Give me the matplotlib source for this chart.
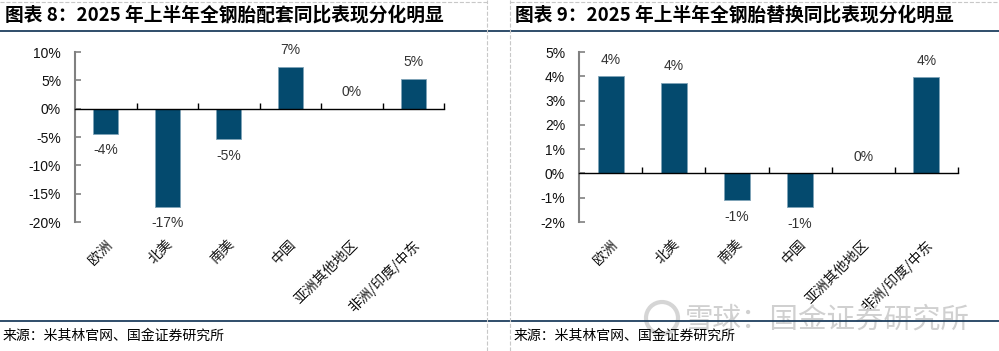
import numpy as np
import matplotlib.pyplot as plt
from matplotlib.lines import Line2D
from matplotlib.patches import Ellipse

plt.rcParams['font.family'] = ['Liberation Sans', 'Noto Sans CJK SC', 'DejaVu Sans']

# 数据
categories = ['欧洲', '北美', '南美', '中国', '亚洲其他地区', '非洲/印度/中东']
oe_yoy = [-4.4, -17.3, -5.4, 7.4, 0.0, 5.3]          # 配套
repl_yoy = [4.0, 3.72, -1.1, -1.4, 0.0, 3.96]        # 替换
oe_ticks = [-20, -15, -10, -5, 0, 5, 10]
repl_ticks = [-2, -1, 0, 1, 2, 3, 4, 5]

titles = ['图表 8：2025 年上半年全钢胎配套同比表现分化明显',
          '图表 9：2025 年上半年全钢胎替换同比表现分化明显']
source = '来源：米其林官网、国金证券研究所'

bar_color = '#044A6E'
text_color = '#333333'
W, H = 999, 351

fig = plt.figure(figsize=(W / 100, H / 100), dpi=100)

def px(x0, y0, x1, y1):
    return [x0 / W, 1 - y1 / H, (x1 - x0) / W, (y1 - y0) / H]

panels = [
    (px(75, 52, 444, 222), oe_yoy, oe_ticks),
    (px(579, 52, 958, 222), repl_yoy, repl_ticks),
]

for rect, vals, ticks in panels:
    ax = fig.add_axes(rect)
    x = np.arange(len(categories))
    ax.bar(x, vals, width=0.41, color=bar_color, edgecolor='#7FA3B8', linewidth=0.6, zorder=2)
    for xi, v in zip(x, vals):
        if v < 0:
            ax.annotate(f'{v:.0f}%', (xi, v), xytext=(0, -7), textcoords='offset points',
                        ha='center', va='top', fontsize=10, color=text_color)
        else:
            ax.annotate(f'{v:.0f}%', (xi, v), xytext=(0, 7), textcoords='offset points',
                        ha='center', va='bottom', fontsize=10, color=text_color)

    ax.set_xlim(-0.5, len(categories) - 0.5)
    ax.set_ylim(ticks[0], ticks[-1])
    ax.set_yticks(ticks)
    ax.set_yticklabels([f'{t}%' for t in ticks])
    ax.tick_params(axis='y', direction='in', length=4, width=1.2, color='#808080',
                   pad=10, labelsize=10, labelcolor='#111111')

    for s in ['top', 'right']:
        ax.spines[s].set_visible(False)
    ax.spines['left'].set_color('#808080')
    ax.spines['left'].set_linewidth(1.5)
    ax.spines['bottom'].set_position(('data', 0))
    ax.spines['bottom'].set_color('black')
    ax.spines['bottom'].set_linewidth(1.0)
    ax.set_xticks(np.arange(0.5, len(categories), 1))
    ax.set_xticklabels([])
    ax.tick_params(axis='x', direction='in', length=4, width=1.0, color='black')

    for xi, c in zip(x, categories):
        ax.text(xi - 0.02, -0.09, c, transform=ax.get_xaxis_transform(),
                rotation=45, ha='right', va='top', rotation_mode='anchor',
                fontsize=10, color='#111111', family=['Noto Sans CJK SC'])

# 标题与来源
for x0, t in zip([5, 515], titles):
    fig.text(x0 / W, 1 - 15 / H, t, ha='left', va='center', fontsize=13.5,
             fontweight='bold', family=['Noto Sans CJK SC'], color='black')
for x0 in [3, 514]:
    fig.text(x0 / W, 1 - 336 / H, source, ha='left', va='center', fontsize=10,
             family=['Noto Sans CJK SC'], color='black')

# 分隔线
for yy in [31, 321]:
    fig.add_artist(Line2D([0, 1], [1 - yy / H] * 2, color='#1F3F5F', lw=1.3))
for xx in [487, 510]:
    fig.add_artist(Line2D([xx / W] * 2, [0, 1], color='#C8C8C8', lw=0.8, ls='--'))
fig.add_artist(Line2D([0, 487 / W], [1 - 2 / H] * 2, color='#C8C8C8', lw=0.8, ls='--'))
fig.add_artist(Line2D([510 / W, 1], [1 - 2 / H] * 2, color='#C8C8C8', lw=0.8, ls='--'))

# 水印
fig.add_artist(Ellipse((662 / W, 1 - 318 / H), 32 / W, 32 / H, fill=False,
                       edgecolor='#D5D5D5', lw=3, transform=fig.transFigure))
fig.text(685 / W, 1 - 320 / H, '雪球：国金证券研究所', ha='left', va='center',
         fontsize=20.5, color='#D0D0D0', family=['Noto Sans CJK SC'], zorder=0)

fig.savefig('out.png', dpi=100)
